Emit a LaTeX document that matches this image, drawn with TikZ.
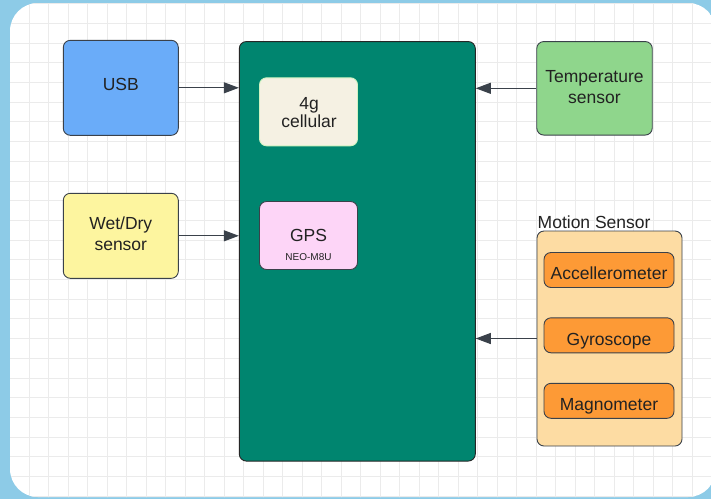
\documentclass[tikz,border=0pt]{standalone}
\usepackage{fontspec}
\setmainfont{Liberation Sans}
\usetikzlibrary{arrows.meta}
\definecolor{bgblue}{HTML}{8DCBE7}
\definecolor{gridc}{HTML}{EBEBEB}
\definecolor{edge}{HTML}{3A414A}
\definecolor{usbc}{HTML}{6AACF9}
\definecolor{wetc}{HTML}{FDF59F}
\definecolor{mainc}{HTML}{00856F}
\definecolor{cellc}{HTML}{F5F1E3}
\definecolor{gpsc}{HTML}{FDD5F7}
\definecolor{tempc}{HTML}{8FD68C}
\definecolor{motc}{HTML}{FDDCA3}
\definecolor{orc}{HTML}{FD9A36}
\definecolor{txt}{HTML}{222222}
\tikzset{
  box/.style={draw=edge, line width=0.9pt, rounded corners=7pt, inner sep=0pt},
  lbl/.style={anchor=base, inner sep=0pt, text=txt, font=\fontsize{17.5}{21}\selectfont},
  conn/.style={draw=edge, line width=1pt, -{Triangle[length=15pt,width=11pt]}},
}
\begin{document}
\begin{tikzpicture}[x=1pt,y=-1pt]
\useasboundingbox (0,0) rectangle (711,499);
\fill[bgblue] (0,0) rectangle (711,499);
\begin{scope}
\clip[rounded corners=28pt] (10,3) rectangle (716,497);
\fill[white] (0,0) rectangle (711,499);
\foreach \i in {-25,...,11} {\draw[gridc, line width=0.7pt] ({497+19.5*\i},0) -- ({497+19.5*\i},499);}
\foreach \j in {-2,...,23} {\draw[gridc, line width=0.7pt] (0,{43+19.7*\j}) -- (711,{43+19.7*\j});}
\end{scope}

\node[box, fill=usbc, minimum width=115pt, minimum height=95pt] (usb) at (120.8,87.8) {};
\node[box, fill=wetc, minimum width=115pt, minimum height=85pt] (wet) at (120.8,235.8) {};
\node[box, fill=mainc, draw=black!85, minimum width=236pt, minimum height=419.5pt] (main) at (357.3,251.3) {};
\node[box, fill=cellc, draw=cellc!85!green, minimum width=98pt, minimum height=68pt] (cell) at (308.5,111.8) {};
\node[box, fill=gpsc, minimum width=98pt, minimum height=68pt] (gps) at (308.5,235.5) {};
\node[box, fill=tempc, minimum width=115.5pt, minimum height=93.5pt] (temp) at (594.5,88.3) {};
\node[box, fill=motc, minimum width=145pt, minimum height=215pt] (motion) at (609.5,338.5) {};
\node[box, fill=orc, minimum width=130pt, minimum height=35pt] (acc) at (609,270) {};
\node[box, fill=orc, minimum width=130pt, minimum height=35pt] (gyro) at (609,335.3) {};
\node[box, fill=orc, minimum width=130pt, minimum height=35pt] (mag) at (609,400.8) {};

\node[lbl] (usbt) at (120.8,90.7) {USB};
\node[lbl] (wett1) at (120.8,229.3) {Wet/Dry};
\node[lbl] (wett2) at (120.8,250.5) {sensor};
\node[lbl] (cellt1) at (309,109.3) {4g};
\node[lbl] (cellt2) at (309,127.7) {cellular};
\node[lbl] (gpst1) at (308.5,241.3) {GPS};
\node[lbl, font=\fontsize{10}{12}\selectfont] (gpst2) at (308.5,260) {NEO-M8U};
\node[lbl] (tempt1) at (594.5,82.7) {Temperature};
\node[lbl] (tempt2) at (594.5,103.3) {sensor};
\node[lbl, anchor=base west] (mlabel) at (537.5,228.3) {Motion Sensor};
\node[lbl] (acct) at (609,279.3) {Accellerometer};
\node[lbl] (gyrot) at (609,345) {Gyroscope};
\node[lbl] (magt) at (609,410.7) {Magnometer};

\draw[conn] (usb.east) -- (usb.east -| main.west);
\draw[conn] (wet.east) -- (wet.east -| main.west);
\draw[conn] (temp.west) -- (temp.west -| main.east);
\draw[conn] (motion.west) -- (motion.west -| main.east);
\end{tikzpicture}
\end{document}
